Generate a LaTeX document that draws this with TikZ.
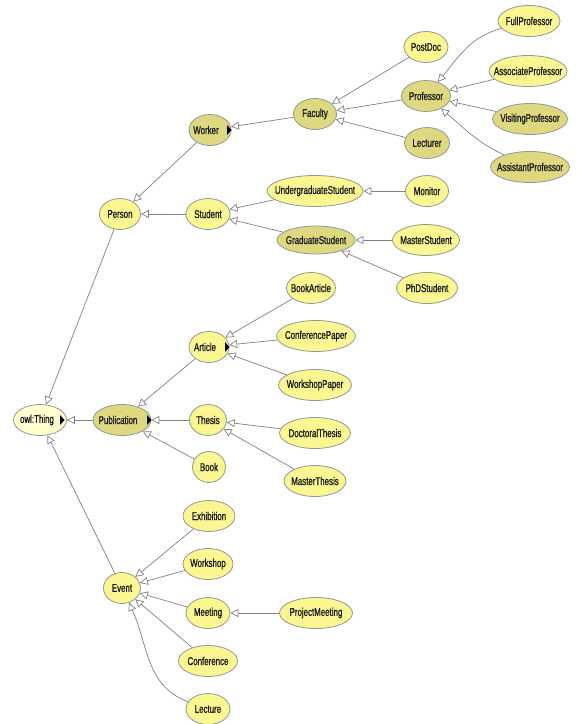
\documentclass[tikz,border=0pt]{standalone}
\usepackage{fontspec}
\setmainfont{Liberation Sans}[FakeStretch=0.7,FakeBold=0.9]
\usetikzlibrary{shapes.geometric,arrows.meta}
\definecolor{ylw}{RGB}{250,246,145}
\definecolor{ylwdark}{RGB}{222,217,128}
\definecolor{ylwpale}{RGB}{255,255,208}
\definecolor{edgegray}{RGB}{128,128,128}
\definecolor{rimgray}{RGB}{150,150,150}
\definecolor{txtc}{RGB}{25,25,25}
\tikzset{
  cls/.style={ellipse, draw=rimgray, line width=0.8pt, fill=ylw, minimum height=31pt, inner sep=0pt},
  dark/.style={fill=ylwdark},
  pale/.style={fill=ylwpale},
  lbl/.style={inner sep=0pt, text=txtc, font=\fontsize{11.3}{13}\selectfont},
  isa/.style={draw=edgegray, line width=0.7pt, -{Triangle[fill=white, length=8pt, width=8pt]}},
  knob/.style={fill=black, draw=none}
}
\newcommand\cn[5][]{\node[cls,minimum width=#4pt,#1] (#2) at (#3) {}; \node[lbl] (#2-t) at (#2.center) {#5};}
\begin{document}
\begin{tikzpicture}[x=1pt,y=-1pt]
\useasboundingbox (0,0) rectangle (578,724);
% root and hubs with expand markers
\node[cls,pale,minimum width=53pt] (thing) at (40,420) {};
\node[lbl] (thing-t) at (37,420) {owl:Thing};
\node[cls,dark,minimum width=58pt] (pub) at (122,420) {};
\node[lbl] (pub-t) at (118,420) {Publication};
\node[cls,dark,minimum width=42pt] (worker) at (210,130) {};
\node[lbl] (worker-t) at (206,130) {Worker};
\node[cls,minimum width=40pt] (article) at (209,347) {};
\node[lbl] (article-t) at (205,347) {Article};
\fill[knob] (60,415) -- (64.5,420) -- (60,425) -- cycle;
\fill[knob] (147,415) -- (151.5,420) -- (147,425) -- cycle;
\fill[knob] (227,125) -- (231.5,130) -- (227,135) -- cycle;
\fill[knob] (225,342) -- (229.5,347) -- (225,352) -- cycle;
% other classes
\cn{person}{120,214}{41}{Person}
\cn{student}{208,214}{44}{Student}
\cn[dark]{faculty}{315,114}{43}{Faculty}
\cn{postdoc}{426,47}{44}{PostDoc}
\cn[dark]{prof}{426,96}{49}{Professor}
\cn[dark]{lecturer}{427,143}{45}{Lecturer}
\cn{fullprof}{529,21}{62}{FullProfessor}
\cn{assocprof}{528,71}{78}{AssociateProfessor}
\cn[dark]{visprof}{530,119}{75}{VisitingProfessor}
\cn[dark]{asstprof}{530,167}{79}{AssistantProfessor}
\cn{ugrad}{315,191}{96}{UndergraduateStudent}
\cn{monitor}{427,191}{43}{Monitor}
\cn[dark,minimum height=28pt]{grad}{316,240}{78}{GraduateStudent}
\cn{mstudent}{426,240}{67}{MasterStudent}
\cn{phd}{427,288}{61}{PhDStudent}
\cn{bookart}{311,288}{49}{BookArticle}
\cn{confpaper}{316,336}{79}{ConferencePaper}
\cn{wspaper}{315,385}{73}{WorkshopPaper}
\cn{thesis}{208,420}{37}{Thesis}
\cn{docthesis}{315,433}{71}{DoctoralThesis}
\cn{mthesis}{315,481}{62}{MasterThesis}
\cn{book}{209,467}{33}{Book}
\cn{event}{122,588}{37}{Event}
\cn{exhib}{209,516}{52}{Exhibition}
\cn{workshop}{208,564}{50}{Workshop}
\cn{meeting}{208,613}{44}{Meeting}
\cn{projmeet}{316,613}{73}{ProjectMeeting}
\cn{conf}{208,661}{59}{Conference}
\cn{lecture}{208,709}{44}{Lecture}
% subclass edges
\draw[isa] (person) -- (thing);
\draw[isa] (pub) -- (thing);
\draw[isa] (event) -- (thing);
\draw[isa] (worker) -- (person);
\draw[isa] (student) -- (person);
\draw[isa] (faculty) -- (worker);
\draw[isa] (postdoc) -- (faculty);
\draw[isa] (prof) -- (faculty);
\draw[isa] (lecturer) -- (faculty);
\draw[isa] (fullprof) to[out=195,in=50] (prof);
\draw[isa] (assocprof) -- (prof);
\draw[isa] (visprof) -- (prof);
\draw[isa] (asstprof) to[out=155,in=-40] (prof);
\draw[isa] (ugrad) -- (student);
\draw[isa] (grad) -- (student);
\draw[isa] (monitor) -- (ugrad);
\draw[isa] (mstudent) -- (grad);
\draw[isa] (phd) -- (grad);
\draw[isa] (article) -- (pub);
\draw[isa] (thesis) -- (pub);
\draw[isa] (book) -- (pub);
\draw[isa] (bookart) -- (article);
\draw[isa] (confpaper) -- (article);
\draw[isa] (wspaper) -- (article);
\draw[isa] (docthesis) -- (thesis);
\draw[isa] (mthesis) -- (thesis);
\draw[isa] (exhib) -- (event);
\draw[isa] (workshop) -- (event);
\draw[isa] (meeting) -- (event);
\draw[isa] (conf) -- (event);
\draw[isa] (lecture) to[out=160,in=-65] (event);
\draw[isa] (projmeet) -- (meeting);
\end{tikzpicture}
\end{document}
